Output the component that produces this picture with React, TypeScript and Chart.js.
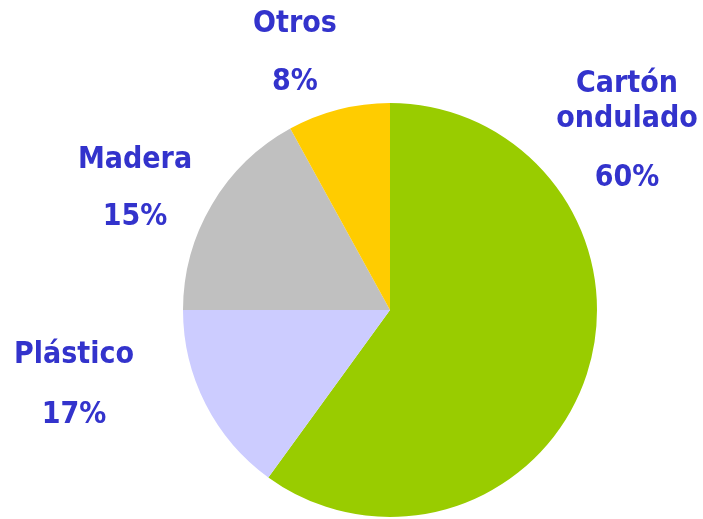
import React, { useEffect, useRef } from "react";
import { Chart, registerables } from "chart.js";

Chart.register(...registerables);

const categories = ["Cartón ondulado", "Plástico", "Madera", "Otros"];
const labelLines = [["Cartón", "ondulado"], ["Plástico"], ["Madera"], ["Otros"]];
const values = [60, 15, 17, 8];
const percentLabels = ["60%", "17%", "15%", "8%"];
const colors = ["#99cc00", "#ccccff", "#c0c0c0", "#ffcc00"];

// label anchor offsets relative to the pie center (text block center x, first baseline y)
const labelAnchors = [
  { dx: 237, dy: -218, lineGap: 35, pctGap: 59 },
  { dx: -316, dy: 53, lineGap: 0, pctGap: 60 },
  { dx: -255, dy: -142, lineGap: 0, pctGap: 57 },
  { dx: -95, dy: -278, lineGap: 0, pctGap: 58 },
];

const labelPlugin = {
  id: "outerLabels",
  afterDraw(chart: any) {
    const meta = chart.getDatasetMeta(0);
    const arc0 = meta.data[0];
    if (!arc0) return;
    const cx = arc0.x;
    const cy = arc0.y;
    const ctx = chart.ctx;
    ctx.save();
    ctx.fillStyle = "#3333cc";
    ctx.font = "bold 30px 'DejaVu Sans Condensed', 'DejaVu Sans', sans-serif";
    ctx.textAlign = "center";
    ctx.textBaseline = "alphabetic";
    labelLines.forEach((lines, i) => {
      const a = labelAnchors[i];
      let y = cy + a.dy;
      const x = cx + a.dx;
      lines.forEach((ln, j) => {
        ctx.fillText(ln, x, y);
        if (j < lines.length - 1) y += a.lineGap;
      });
      ctx.fillText(percentLabels[i], x, y + a.pctGap);
    });
    ctx.restore();
  },
};

export default function App() {
  const ref = useRef<HTMLCanvasElement | null>(null);
  useEffect(() => {
    document.body.style.margin = "0";
    const chart = new Chart(ref.current as HTMLCanvasElement, {
      type: "pie",
      data: {
        labels: categories,
        datasets: [
          {
            data: values,
            backgroundColor: colors,
            borderWidth: 0,
          },
        ],
      },
      options: {
        responsive: false,
        animation: false,
        layout: { padding: { top: 103, bottom: 2, left: 183, right: 106 } },
        plugins: {
          legend: { display: false },
          tooltip: { enabled: false },
        },
      },
      plugins: [labelPlugin],
    });
    return () => chart.destroy();
  }, []);
  return (
    <div style={{ position: "absolute", left: 0, top: 0, width: 703, height: 519, background: "#fff" }}>
      <canvas ref={ref} width={703} height={519} style={{ width: 703, height: 519 }} />
    </div>
  );
}
